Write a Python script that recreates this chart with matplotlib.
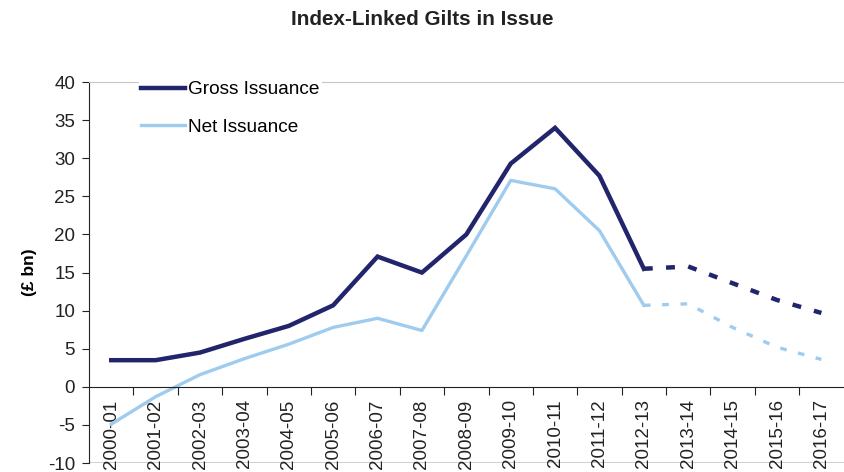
import numpy as np
import matplotlib.pyplot as plt

plt.rcParams['font.family'] = ['Liberation Sans', 'DejaVu Sans']
plt.rcParams['axes.unicode_minus'] = False

years = ['2000-01', '2001-02', '2002-03', '2003-04', '2004-05', '2005-06',
         '2006-07', '2007-08', '2008-09', '2009-10', '2010-11', '2011-12',
         '2012-13', '2013-14', '2014-15', '2015-16', '2016-17']
gross = [3.5, 3.5, 4.5, 6.3, 8.0, 10.7, 17.1, 15.0, 20.0, 29.3, 34.0, 27.7,
         15.5, 15.8, 13.6, 11.4, 9.7]
net = [-4.9, -1.3, 1.6, 3.7, 5.6, 7.8, 9.0, 7.4, 17.2, 27.1, 26.0, 20.5,
       10.7, 10.9, 7.8, 5.2, 3.6]
n_actual = 13  # up to 2012-13 actual, later years projected

navy = '#22256b'
light = '#9ecbee'

fig = plt.figure(figsize=(8.44, 4.72), dpi=100)
ax = fig.add_axes([0.1055, 0.019, 0.894, 0.807])

x = np.arange(len(years))
ax.plot(x[:n_actual], gross[:n_actual], color=navy, lw=3.2, label='Gross Issuance',
        solid_joinstyle='miter', zorder=3)
ax.plot(x[n_actual - 1:], gross[n_actual - 1:], color=navy, lw=3.2,
        linestyle=(0, (2, 3)), zorder=3)
ax.plot(x[:n_actual], net[:n_actual], color=light, lw=2.4, label='Net Issuance', zorder=2)
ax.plot(x[n_actual - 1:], net[n_actual - 1:], color=light, lw=2.4,
        linestyle=(0, (2, 3.5)), zorder=2)

ax.set_xlim(-0.5, len(years) - 0.5)
ax.set_ylim(-10, 40)
ax.set_yticks(np.arange(-10, 41, 5))
ax.tick_params(axis='y', labelsize=13.5, direction='out', length=5, pad=5,
               color='#222222', labelcolor='#222222')

# x axis on zero, ticks between categories
ax.spines['bottom'].set_position(('data', 0))
ax.spines['bottom'].set_color('#222222')
ax.spines['left'].set_color('#222222')
ax.spines['right'].set_visible(False)
ax.spines['top'].set_color('#c8c8c8')
ax.axhline(-10, color='#c8c8c8', lw=1.2, zorder=1)
ax.set_xticks(np.arange(0.5, len(years) - 1, 1))
ax.set_xticklabels([])
ax.set_xticks(x, minor=True)
ax.set_xticklabels(years, minor=True, rotation=90, fontsize=13.5, color='#222222')
ax.tick_params(axis='x', which='major', direction='out', length=6, color='#222222')
ax.tick_params(axis='x', which='minor', length=0, pad=9)

ax.set_ylabel('(£ bn)', fontsize=12.5, fontweight='bold', labelpad=8)

leg = ax.legend(loc='upper left', bbox_to_anchor=(0.066, 1.008), frameon=True,
                framealpha=1, edgecolor='white', fontsize=13.7, handlelength=2.35,
                handletextpad=0.15, labelspacing=1.05, borderaxespad=0, borderpad=0.1)
leg.get_frame().set_linewidth(0)

fig.suptitle('Index-Linked Gilts in Issue', x=0.5, y=0.978, fontsize=14.9,
             fontweight='bold', color='#222222')

fig.savefig('out.png', dpi=100)
